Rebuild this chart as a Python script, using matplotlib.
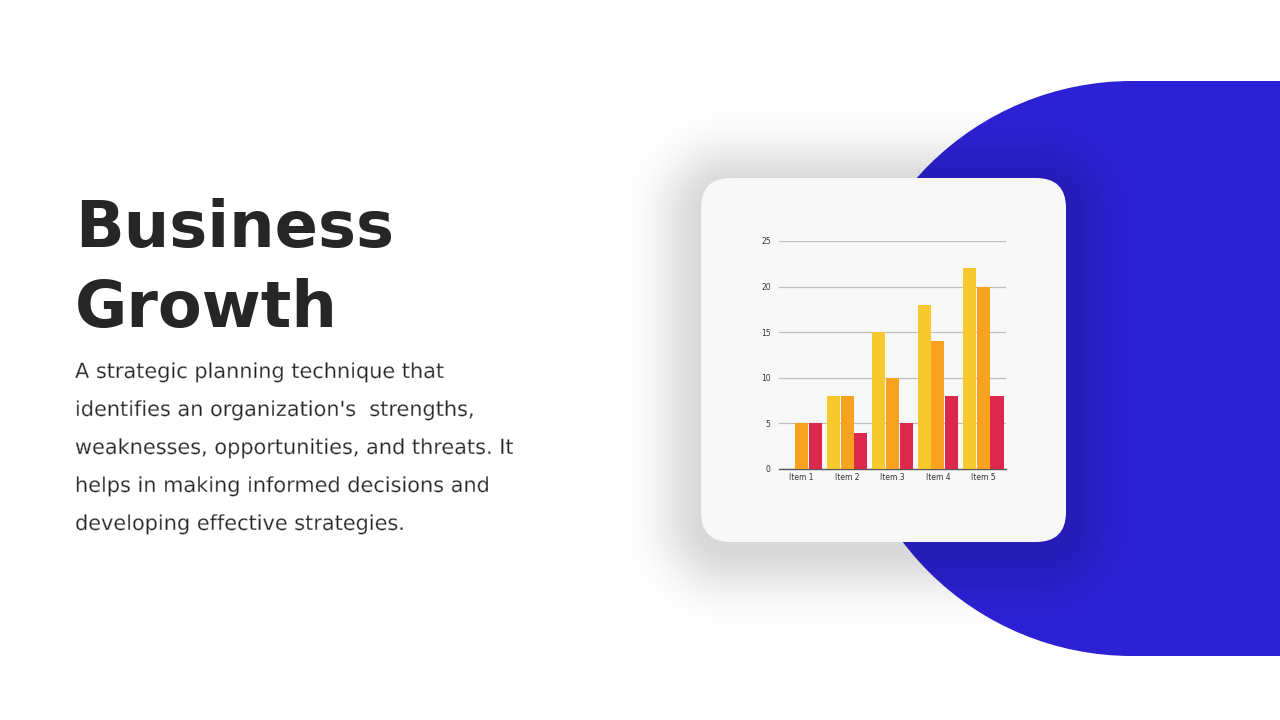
import numpy as np
import matplotlib
matplotlib.use('Agg')
import matplotlib.pyplot as plt
import matplotlib.patheffects as pe
from matplotlib.patches import FancyBboxPatch, Circle, Rectangle

# * ----- Data ----------------------------------------------------------------
items = ['Item 1', 'Item 2', 'Item 3', 'Item 4', 'Item 5']
series_a = [0, 8, 15, 18, 22]
series_b = [5, 8, 10, 14, 20]
series_c = [5, 4, 5, 8, 8]
y_ticks = [0, 5, 10, 15, 20, 25]

title_lines = ['Business', 'Growth']
body_lines = [
    'A strategic planning technique that',
    "identifies an organization's  strengths,",
    'weaknesses, opportunities, and threats. It',
    'helps in making informed decisions and',
    'developing effective strategies.',
]

BLUE = '#2d21d6'
YELLOW = '#f7c92f'
ORANGE = '#f9a220'
RED = '#dc284d'
TEXT = '#262626'

W, H = 1280, 720
CARD = (701, 178, 365, 364)  # x, y, w, h in pixels (y down)
CARD_R = 30


def rounded_rect_dist(px, py, x0, y0, w, h, r):
    # signed distance from pixel grid to a rounded rectangle
    cx, cy = x0 + w / 2, y0 + h / 2
    qx = np.abs(px - cx) - (w / 2 - r)
    qy = np.abs(py - cy) - (h / 2 - r)
    outside = np.hypot(np.maximum(qx, 0), np.maximum(qy, 0))
    inside = np.minimum(np.maximum(qx, qy), 0)
    return outside + inside - r


fig = plt.figure(figsize=(12.8, 7.2), dpi=100)
fig.patch.set_facecolor('white')

# background canvas in pixel coords
bg = fig.add_axes([0, 0, 1, 1])

# blue pill shape on the right
bg.add_patch(Circle((1132, 368.5), 287.5, facecolor=BLUE, edgecolor='none', zorder=1))
bg.add_patch(Rectangle((1132, 81), 160, 575, facecolor=BLUE, edgecolor='none', zorder=1))

# soft shadow around the card
gx, gy = np.meshgrid(np.arange(W) + 0.5, np.arange(H) + 0.5)
d = rounded_rect_dist(gx, gy, CARD[0], CARD[1] + 8, CARD[2], CARD[3], CARD_R)
shadow_alpha = 0.15 * np.exp(-(np.maximum(d, 0) / 42.0) ** 1.8)
shadow = np.zeros((H, W, 4))
shadow[..., 3] = shadow_alpha
bg.imshow(shadow, extent=(0, W, H, 0), origin='upper', interpolation='bilinear', zorder=2)

# card
bg.add_patch(FancyBboxPatch((CARD[0], CARD[1]), CARD[2], CARD[3],
                            boxstyle=f'round,pad=0,rounding_size={CARD_R}',
                            facecolor='#f8f8f8', edgecolor='none', zorder=3))

bg.set_xlim(0, W)
bg.set_ylim(H, 0)
bg.set_aspect('auto')
bg.axis('off')

# title + body text
font = 'DejaVu Sans'
bg.text(75, 247, title_lines[0], fontsize=46, fontweight='bold', color=TEXT,
        family=font, va='baseline', ha='left')
bg.text(75, 327, title_lines[1], fontsize=46, fontweight='bold', color=TEXT,
        family=font, va='baseline', ha='left')
thin = [pe.Normal(), pe.Stroke(linewidth=0.3, foreground='white')]
for k, line in enumerate(body_lines):
    bg.text(75, 378 + 38 * k, line, fontsize=15, color='#222222', family=font,
            va='baseline', ha='left', path_effects=thin)

# * ----- Chart ---------------------------------------------------------------
ax = fig.add_axes([779 / W, 1 - 469 / H, 227 / W, 228 / H])
ax.set_facecolor('none')
x = np.arange(len(items))
w = 0.29
step = 0.30
ax.bar(x - step, series_a, w, color=YELLOW, zorder=3)
ax.bar(x, series_b, w, color=ORANGE, zorder=3)
ax.bar(x + step, series_c, w, color=RED, zorder=3)

ax.set_xlim(-0.5, len(items) - 0.5)
ax.set_ylim(0, 25)
ax.set_yticks(y_ticks)
ax.set_xticks(x)
ax.set_xticklabels(items)
ax.yaxis.grid(True, color='#bdbdbd', lw=0.9, zorder=0)
ax.set_axisbelow(True)
for s in ['top', 'right', 'left']:
    ax.spines[s].set_visible(False)
ax.spines['bottom'].set_color('#555555')
ax.spines['bottom'].set_linewidth(1.0)
ax.tick_params(axis='both', length=0, labelsize=5.5, colors='#333333')
ax.tick_params(axis='y', pad=6)
ax.tick_params(axis='x', pad=3)

fig.savefig('out.png', dpi=100)
